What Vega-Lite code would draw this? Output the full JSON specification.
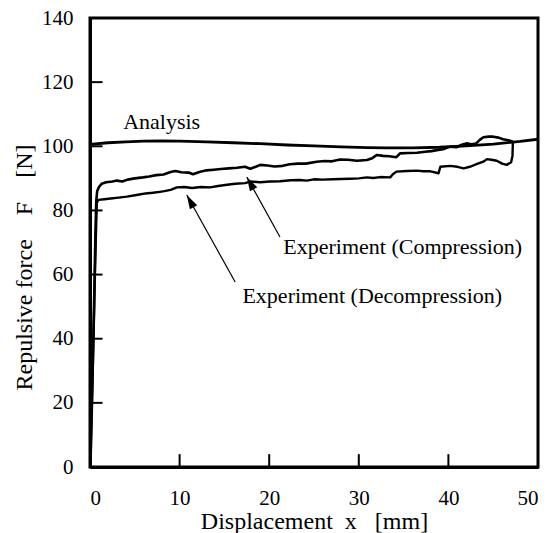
{
  "$schema": "https://vega.github.io/schema/vega-lite/v6.json",
  "width": 448,
  "height": 449,
  "autosize": {"type": "none"},
  "padding": {"left": 90, "top": 18, "right": 18, "bottom": 66},
  "background": "white",
  "config": {
    "font": "Liberation Serif",
    "view": {"stroke": "black", "strokeWidth": 3},
    "axis": {
      "grid": false,
      "ticks": false,
      "domainColor": "black",
      "domainWidth": 3,
      "labelFont": "Liberation Serif",
      "labelFontSize": 21,
      "labelColor": "black",
      "titleFont": "Liberation Serif",
      "titleFontSize": 24,
      "titleFontWeight": "normal",
      "titleColor": "black"
    }
  },
  "datasets": {
    "curves": [
      {"s": "Analysis", "i": 0, "x": 0, "y": 100.6},
      {"s": "Analysis", "i": 1, "x": 2, "y": 101.1},
      {"s": "Analysis", "i": 2, "x": 4, "y": 101.4},
      {"s": "Analysis", "i": 3, "x": 6, "y": 101.6},
      {"s": "Analysis", "i": 4, "x": 8, "y": 101.7},
      {"s": "Analysis", "i": 5, "x": 10, "y": 101.6},
      {"s": "Analysis", "i": 6, "x": 13, "y": 101.4},
      {"s": "Analysis", "i": 7, "x": 16, "y": 101.1},
      {"s": "Analysis", "i": 8, "x": 19, "y": 100.8},
      {"s": "Analysis", "i": 9, "x": 22, "y": 100.4},
      {"s": "Analysis", "i": 10, "x": 25, "y": 100.1},
      {"s": "Analysis", "i": 11, "x": 28, "y": 99.8},
      {"s": "Analysis", "i": 12, "x": 31, "y": 99.6},
      {"s": "Analysis", "i": 13, "x": 33, "y": 99.5},
      {"s": "Analysis", "i": 14, "x": 36, "y": 99.5},
      {"s": "Analysis", "i": 15, "x": 39, "y": 99.7},
      {"s": "Analysis", "i": 16, "x": 42, "y": 100.1},
      {"s": "Analysis", "i": 17, "x": 45, "y": 100.7},
      {"s": "Analysis", "i": 18, "x": 48, "y": 101.5},
      {"s": "Analysis", "i": 19, "x": 50, "y": 102.2},

      {"s": "Compression", "i": 0, "x": 0, "y": 0},
      {"s": "Compression", "i": 1, "x": 0.25, "y": 25},
      {"s": "Compression", "i": 2, "x": 0.45, "y": 50},
      {"s": "Compression", "i": 3, "x": 0.6, "y": 72},
      {"s": "Compression", "i": 4, "x": 0.7, "y": 83},
      {"s": "Compression", "i": 5, "x": 0.8, "y": 86},
      {"s": "Compression", "i": 6, "x": 1.0, "y": 87.3},
      {"s": "Compression", "i": 7, "x": 1.3, "y": 88.3},
      {"s": "Compression", "i": 8, "x": 1.8, "y": 88.8},
      {"s": "Compression", "i": 9, "x": 2.5, "y": 89.0},
      {"s": "Compression", "i": 10, "x": 3.0, "y": 89.3},
      {"s": "Compression", "i": 11, "x": 3.6, "y": 89.0},
      {"s": "Compression", "i": 12, "x": 4.2, "y": 89.6},
      {"s": "Compression", "i": 13, "x": 5.0, "y": 90.0},
      {"s": "Compression", "i": 14, "x": 5.9, "y": 90.3},
      {"s": "Compression", "i": 15, "x": 6.6, "y": 90.6},
      {"s": "Compression", "i": 16, "x": 7.4, "y": 91.0},
      {"s": "Compression", "i": 17, "x": 8.2, "y": 91.2},
      {"s": "Compression", "i": 18, "x": 9.0, "y": 92.0},
      {"s": "Compression", "i": 19, "x": 9.5, "y": 92.3},
      {"s": "Compression", "i": 20, "x": 10.2, "y": 91.9},
      {"s": "Compression", "i": 21, "x": 11.0, "y": 91.8},
      {"s": "Compression", "i": 22, "x": 11.5, "y": 91.3},
      {"s": "Compression", "i": 23, "x": 12.2, "y": 92.0},
      {"s": "Compression", "i": 24, "x": 13.0, "y": 92.5},
      {"s": "Compression", "i": 25, "x": 13.8, "y": 92.7},
      {"s": "Compression", "i": 26, "x": 14.6, "y": 92.9},
      {"s": "Compression", "i": 27, "x": 15.5, "y": 93.1},
      {"s": "Compression", "i": 28, "x": 16.4, "y": 93.3},
      {"s": "Compression", "i": 29, "x": 17.3, "y": 93.6},
      {"s": "Compression", "i": 30, "x": 17.9, "y": 93.0},
      {"s": "Compression", "i": 31, "x": 18.5, "y": 93.6},
      {"s": "Compression", "i": 32, "x": 19.0, "y": 94.2},
      {"s": "Compression", "i": 33, "x": 19.8, "y": 94.0},
      {"s": "Compression", "i": 34, "x": 20.6, "y": 93.7},
      {"s": "Compression", "i": 35, "x": 21.5, "y": 93.9},
      {"s": "Compression", "i": 36, "x": 22.3, "y": 94.4},
      {"s": "Compression", "i": 37, "x": 23.2, "y": 94.6},
      {"s": "Compression", "i": 38, "x": 24.1, "y": 94.6},
      {"s": "Compression", "i": 39, "x": 25.3, "y": 95.2},
      {"s": "Compression", "i": 40, "x": 26.2, "y": 95.4},
      {"s": "Compression", "i": 41, "x": 27.0, "y": 95.3},
      {"s": "Compression", "i": 42, "x": 27.9, "y": 95.9},
      {"s": "Compression", "i": 43, "x": 28.8, "y": 95.8},
      {"s": "Compression", "i": 44, "x": 29.8, "y": 95.5},
      {"s": "Compression", "i": 45, "x": 30.9, "y": 95.7},
      {"s": "Compression", "i": 46, "x": 31.5, "y": 96.3},
      {"s": "Compression", "i": 47, "x": 32.0, "y": 97.3},
      {"s": "Compression", "i": 48, "x": 32.7, "y": 97.0},
      {"s": "Compression", "i": 49, "x": 33.4, "y": 96.9},
      {"s": "Compression", "i": 50, "x": 34.2, "y": 96.6},
      {"s": "Compression", "i": 51, "x": 34.6, "y": 97.8},
      {"s": "Compression", "i": 52, "x": 35.5, "y": 97.9},
      {"s": "Compression", "i": 53, "x": 36.5, "y": 98.0},
      {"s": "Compression", "i": 54, "x": 37.4, "y": 98.3},
      {"s": "Compression", "i": 55, "x": 38.1, "y": 98.5},
      {"s": "Compression", "i": 56, "x": 38.7, "y": 98.8},
      {"s": "Compression", "i": 57, "x": 39.4, "y": 99.1},
      {"s": "Compression", "i": 58, "x": 40.2, "y": 99.9},
      {"s": "Compression", "i": 59, "x": 40.9, "y": 99.7},
      {"s": "Compression", "i": 60, "x": 41.5, "y": 100.5},
      {"s": "Compression", "i": 61, "x": 42.0, "y": 100.9},
      {"s": "Compression", "i": 62, "x": 42.6, "y": 100.6},
      {"s": "Compression", "i": 63, "x": 43.1, "y": 100.9},
      {"s": "Compression", "i": 64, "x": 43.5, "y": 102.0},
      {"s": "Compression", "i": 65, "x": 43.9, "y": 102.8},
      {"s": "Compression", "i": 66, "x": 44.5, "y": 103.0},
      {"s": "Compression", "i": 67, "x": 45.0, "y": 103.0},
      {"s": "Compression", "i": 68, "x": 45.6, "y": 102.7},
      {"s": "Compression", "i": 69, "x": 46.1, "y": 102.2},
      {"s": "Compression", "i": 70, "x": 46.7, "y": 101.9},
      {"s": "Compression", "i": 71, "x": 47.2, "y": 101.4},

      {"s": "Decompression", "i": 0, "x": 47.2, "y": 101.4},
      {"s": "Decompression", "i": 1, "x": 47.15, "y": 97.0},
      {"s": "Decompression", "i": 2, "x": 47.0, "y": 95.0},
      {"s": "Decompression", "i": 3, "x": 46.5, "y": 94.2},
      {"s": "Decompression", "i": 4, "x": 46.0, "y": 94.6},
      {"s": "Decompression", "i": 5, "x": 45.4, "y": 95.5},
      {"s": "Decompression", "i": 6, "x": 44.8, "y": 95.8},
      {"s": "Decompression", "i": 7, "x": 44.3, "y": 96.0},
      {"s": "Decompression", "i": 8, "x": 43.9, "y": 95.2},
      {"s": "Decompression", "i": 9, "x": 43.2, "y": 94.5},
      {"s": "Decompression", "i": 10, "x": 42.5, "y": 93.7},
      {"s": "Decompression", "i": 11, "x": 41.7, "y": 93.1},
      {"s": "Decompression", "i": 12, "x": 41.0, "y": 93.6},
      {"s": "Decompression", "i": 13, "x": 40.2, "y": 93.9},
      {"s": "Decompression", "i": 14, "x": 39.1, "y": 93.6},
      {"s": "Decompression", "i": 15, "x": 38.9, "y": 91.6},
      {"s": "Decompression", "i": 16, "x": 38.0, "y": 92.2},
      {"s": "Decompression", "i": 17, "x": 37.2, "y": 92.2},
      {"s": "Decompression", "i": 18, "x": 36.5, "y": 92.4},
      {"s": "Decompression", "i": 19, "x": 35.4, "y": 92.3},
      {"s": "Decompression", "i": 20, "x": 34.2, "y": 92.1},
      {"s": "Decompression", "i": 21, "x": 33.8, "y": 91.3},
      {"s": "Decompression", "i": 22, "x": 33.5, "y": 90.3},
      {"s": "Decompression", "i": 23, "x": 32.4, "y": 90.4},
      {"s": "Decompression", "i": 24, "x": 31.6, "y": 90.1},
      {"s": "Decompression", "i": 25, "x": 30.9, "y": 90.3},
      {"s": "Decompression", "i": 26, "x": 30.0, "y": 90.0},
      {"s": "Decompression", "i": 27, "x": 29.0, "y": 89.9},
      {"s": "Decompression", "i": 28, "x": 28.0, "y": 89.8},
      {"s": "Decompression", "i": 29, "x": 27.1, "y": 89.7},
      {"s": "Decompression", "i": 30, "x": 26.0, "y": 89.6},
      {"s": "Decompression", "i": 31, "x": 25.0, "y": 89.7},
      {"s": "Decompression", "i": 32, "x": 24.2, "y": 89.3},
      {"s": "Decompression", "i": 33, "x": 23.4, "y": 89.5},
      {"s": "Decompression", "i": 34, "x": 22.4, "y": 89.4},
      {"s": "Decompression", "i": 35, "x": 21.2, "y": 89.1},
      {"s": "Decompression", "i": 36, "x": 20.1, "y": 89.0},
      {"s": "Decompression", "i": 37, "x": 19.0, "y": 88.8},
      {"s": "Decompression", "i": 38, "x": 17.9, "y": 89.0},
      {"s": "Decompression", "i": 39, "x": 17.3, "y": 88.5},
      {"s": "Decompression", "i": 40, "x": 16.2, "y": 88.3},
      {"s": "Decompression", "i": 41, "x": 15.3, "y": 88.0},
      {"s": "Decompression", "i": 42, "x": 14.3, "y": 87.6},
      {"s": "Decompression", "i": 43, "x": 13.4, "y": 87.2},
      {"s": "Decompression", "i": 44, "x": 12.4, "y": 87.3},
      {"s": "Decompression", "i": 45, "x": 11.4, "y": 87.0},
      {"s": "Decompression", "i": 46, "x": 10.5, "y": 87.3},
      {"s": "Decompression", "i": 47, "x": 9.7, "y": 87.2},
      {"s": "Decompression", "i": 48, "x": 9.0, "y": 86.4},
      {"s": "Decompression", "i": 49, "x": 8.3, "y": 86.0},
      {"s": "Decompression", "i": 50, "x": 7.8, "y": 85.8},
      {"s": "Decompression", "i": 51, "x": 7.0, "y": 85.5},
      {"s": "Decompression", "i": 52, "x": 6.2, "y": 85.3},
      {"s": "Decompression", "i": 53, "x": 5.2, "y": 84.8},
      {"s": "Decompression", "i": 54, "x": 4.1, "y": 84.3},
      {"s": "Decompression", "i": 55, "x": 3.2, "y": 84.0},
      {"s": "Decompression", "i": 56, "x": 2.3, "y": 83.7},
      {"s": "Decompression", "i": 57, "x": 1.6, "y": 83.5},
      {"s": "Decompression", "i": 58, "x": 0.93, "y": 83.3},
      {"s": "Decompression", "i": 59, "x": 0.75, "y": 82.3},
      {"s": "Decompression", "i": 60, "x": 0.55, "y": 60},
      {"s": "Decompression", "i": 61, "x": 0.35, "y": 35},
      {"s": "Decompression", "i": 62, "x": 0.15, "y": 10},
      {"s": "Decompression", "i": 63, "x": 0.05, "y": 0}
    ],
    "labels": [
      {"label": "Analysis", "x": 8.0, "y": 107.5},
      {"label": "Experiment (Compression)", "x": 34.9, "y": 68.6},
      {"label": "Experiment (Decompression)", "x": 31.5, "y": 53.2}
    ],
    "arrows": [
      {"x": 21.2, "y": 71.7, "x2": 17.5, "y2": 90.4},
      {"x": 16.2, "y": 57.7, "x2": 10.8, "y2": 84.8}
    ],
    "xticks": [{"v": 10}, {"v": 20}, {"v": 30}, {"v": 40}],
    "yticks": [{"v": 20}, {"v": 40}, {"v": 60}, {"v": 80}, {"v": 100}, {"v": 120}]
  },
  "layer": [
    {
      "data": {"name": "curves"},
      "mark": {"type": "line", "color": "black", "strokeJoin": "round", "clip": true},
      "encoding": {
        "x": {
          "field": "x", "type": "quantitative",
          "scale": {"domain": [0, 50], "nice": false},
          "axis": {"values": [0, 10, 20, 30, 40, 50], "title": "Displacement\u00a0\u00a0x\u00a0\u00a0\u00a0[mm]", "labelPadding": 20, "titleBaseline": "alphabetic", "titleY": 61}
        },
        "y": {
          "field": "y", "type": "quantitative",
          "scale": {"domain": [0, 140], "nice": false},
          "axis": {"values": [0, 20, 40, 60, 80, 100, 120, 140], "title": "Repulsive force\u00a0\u00a0\u00a0\u00a0F\u00a0\u00a0\u00a0\u00a0[N]", "labelPadding": 17, "titleX": -66, "titleY": 249, "titleAngle": 270, "titleAlign": "center", "titleBaseline": "middle"}
        },
        "detail": {"field": "s"},
        "order": {"field": "i", "type": "quantitative"},
        "strokeWidth": {
          "field": "s", "type": "nominal", "legend": null,
          "scale": {"domain": ["Analysis", "Compression", "Decompression"], "range": [2.8, 2.4, 2.4]}
        }
      }
    },
    {
      "data": {"name": "xticks"},
      "mark": {"type": "rule", "color": "#000000", "strokeWidth": 2, "opacity": 1},
      "encoding": {
        "x": {"field": "v", "type": "quantitative"},
        "y": {"datum": 0, "type": "quantitative"},
        "y2": {"datum": 4}
      }
    },
    {
      "data": {"name": "yticks"},
      "mark": {"type": "rule", "color": "#000000", "strokeWidth": 2, "opacity": 1},
      "encoding": {
        "y": {"field": "v", "type": "quantitative"},
        "x": {"datum": 0, "type": "quantitative"},
        "x2": {"datum": 1.4}
      }
    },
    {
      "data": {"name": "arrows"},
      "mark": {"type": "rule", "color": "black", "strokeWidth": 1.2},
      "encoding": {
        "x": {"field": "x", "type": "quantitative"},
        "y": {"field": "y", "type": "quantitative"},
        "x2": {"field": "x2"},
        "y2": {"field": "y2"}
      }
    },
    {
      "data": {"name": "arrows"},
      "mark": {"type": "point", "filled": true, "color": "black", "opacity": 1, "shape": "M0,0L-0.6,2L0.6,2Z", "size": 196, "angle": 331},
      "encoding": {
        "x": {"field": "x2", "type": "quantitative"},
        "y": {"field": "y2", "type": "quantitative"}
      }
    },
    {
      "data": {"name": "labels"},
      "mark": {"type": "text", "font": "Liberation Serif", "fontSize": 22, "color": "black", "align": "center", "baseline": "middle"},
      "encoding": {
        "x": {"field": "x", "type": "quantitative"},
        "y": {"field": "y", "type": "quantitative"},
        "text": {"field": "label"}
      }
    }
  ]
}
